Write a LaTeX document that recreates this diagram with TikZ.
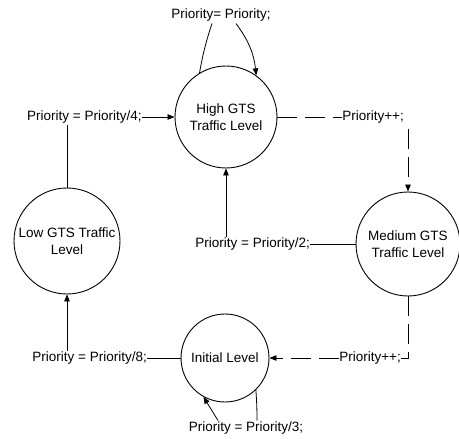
\documentclass[tikz,border=0pt]{standalone}
\usepackage{fontspec}
\setmainfont{Liberation Sans}
\usetikzlibrary{arrows.meta,calc}
\tikzset{
  state/.style={draw,circle,line width=0.9pt,inner sep=0pt,align=center,font=\fontsize{13.5}{17}\selectfont},
  lbl/.style={inner sep=0pt,font=\fontsize{13.5}{16}\selectfont},
  conn/.style={line width=0.8pt},
  dconn/.style={line width=0.8pt,dash pattern=on 20pt off 8pt},
  tip/.style={-{Triangle[length=7pt,width=5.5pt]}}
}
\begin{document}
\begin{tikzpicture}[x=1pt,y=-1pt]
\useasboundingbox (0,0) rectangle (459,439);
% states
\node[state,minimum size=102pt] (high) at (226,117) {High GTS\\Traffic Level};
\node[state,minimum size=106pt] (low) at (67,241) {Low GTS Traffic\\Level};
\node[state,minimum size=104pt] (med) at (408,244) {Medium GTS\\Traffic Level};
\node[state,minimum size=88pt] (init) at (225,358) {Initial Level};
% labels
\node[lbl,anchor=west] (l4) at (27,117) {Priority = Priority/4;};
\node[lbl,anchor=east] (pp1) at (404,117) {Priority++;};
\node[lbl,anchor=east] (l2) at (310,244) {Priority = Priority/2;};
\node[lbl,anchor=east] (l8) at (147,358) {Priority = Priority/8;};
\node[lbl,anchor=east] (pp2) at (401,358) {Priority++;};
\node[lbl] (l3) at (246,428) {Priority = Priority/3;};
\node[lbl] (lself) at (221,15) {Priority= Priority;};
% Low -> High
\draw[conn] (low.north) -- ($(low.north |- l4.south)+(0,2)$);
\draw[conn,tip] (l4.east) -- (high.west);
% High -> Medium (dashed)
\draw[dconn] (high.east) -- (pp1.west);
\draw[dconn,tip] ($(med.north |- pp1.south)+(0,6)$) -- (med.north);
% Medium -> Initial (dashed)
\draw[dconn] (med.south) -- (med.south |- pp2.east) -- (pp2.east);
\draw[dconn,tip] (pp2.west) -- (init.east);
% Initial -> Low
\draw[conn] (init.west) -- (l8.east);
\draw[conn,tip] ($(low.south |- l8.north)+(0,-1)$) -- (low.south);
% Medium -> High
\draw[conn] (med.west) -- (l2.east);
\draw[conn,tip] ($(high.south |- l2.north)+(0,-1)$) -- (high.south);
% self loop High
\draw[conn] ($(lself.south)+(-9,2)$) to[bend right=4] (high.121);
\draw[conn,tip] ($(lself.south)+(15,2)$) to[bend left=15] (high.54);
% self loop Initial
\draw[conn] (init.-46) to[bend left=2] ($(l3.north)+(11,-1)$);
\draw[conn,tip] ($(l3.north)+(-28,-1)$) -- (init.241);
\end{tikzpicture}
\end{document}
